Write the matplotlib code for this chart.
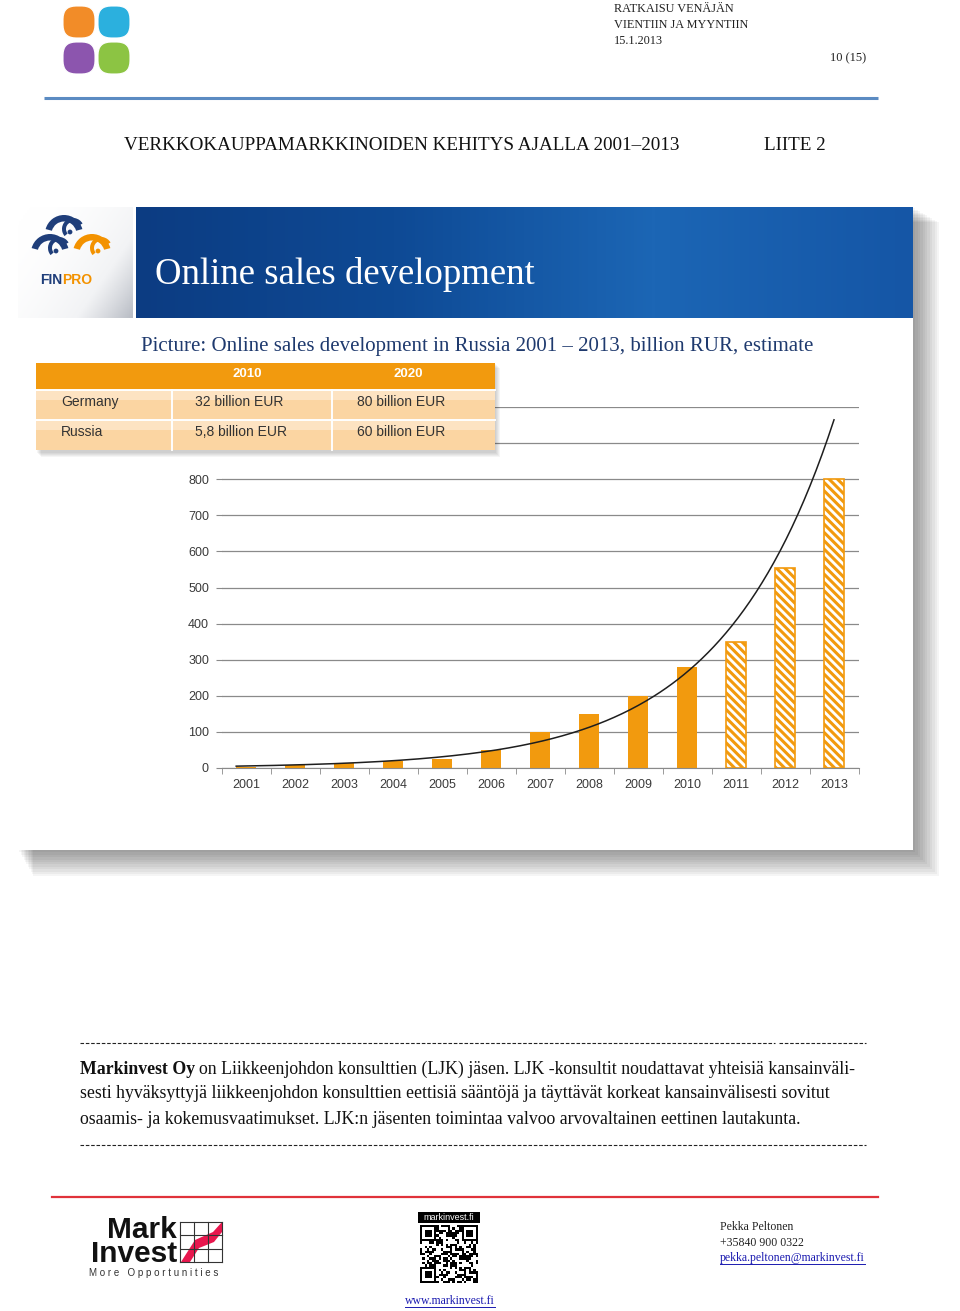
import hashlib
import numpy as np
import matplotlib
matplotlib.use("Agg")
import matplotlib.pyplot as plt
from matplotlib.patches import Rectangle, FancyBboxPatch, Wedge, Circle, Polygon
from matplotlib.colors import LinearSegmentedColormap

# chart data (billion RUR, estimate)
years = ["2001", "2002", "2003", "2004", "2005", "2006", "2007",
         "2008", "2009", "2010", "2011", "2012", "2013"]
sales = [4, 9, 15, 20, 25, 50, 100, 150, 200, 280, 350, 555, 800]
is_forecast = [False] * 10 + [True] * 3
y_ticks = [0, 100, 200, 300, 400, 500, 600, 700, 800]

# table in the slide
table_cols = ["", "2010", "2020"]
table_rows = [["Germany", "32 billion EUR", "80 billion EUR"],
              ["Russia", "5,8 billion EUR", "60 billion EUR"]]

header_lines = ["RATKAISU VENÄJÄN", "VIENTIIN JA MYYNTIIN", "15.1.2013"]
page_no = "10 (15)"
doc_title = "VERKKOKAUPPAMARKKINOIDEN KEHITYS AJALLA 2001–2013"
appendix = "LIITE 2"
slide_title = "Online sales development"
chart_title = "Picture: Online sales development in Russia 2001 – 2013, billion RUR, estimate"
para_bold = "Markinvest Oy"
para_lines = ["on Liikkeenjohdon konsulttien (LJK) jäsen. LJK -konsultit noudattavat yhteisiä kansainväli-",
              "sesti hyväksyttyjä liikkeenjohdon konsulttien eettisiä sääntöjä ja täyttävät korkeat kansainvälisesti sovitut",
              "osaamis- ja kokemusvaatimukset. LJK:n jäsenten toimintaa valvoo arvovaltainen eettinen lautakunta."]
contact = ["Pekka Peltonen", "+35840 900 0322", "pekka.peltonen@markinvest.fi"]
website = "www.markinvest.fi"

ORANGE = "#F29A0E"
SERIF = ["Liberation Serif", "DejaVu Serif"]
SANS = ["Liberation Sans", "DejaVu Sans"]

plt.rcParams["hatch.linewidth"] = 2.2
plt.rcParams["hatch.color"] = ORANGE

W, H = 960, 1311
fig = plt.figure(figsize=(W / 100, H / 100), dpi=100)
fig.patch.set_facecolor("white")
renderer = fig.canvas.get_renderer()


def right_edge(ax_, t):
    # x position (pixel coords of ax_) of the right end of a text
    bb = t.get_window_extent(renderer=renderer)
    return ax_.transData.inverted().transform((bb.x1, bb.y0))[0]


# background layer in pixel coordinates
bg = fig.add_axes([0, 0, 1, 1], zorder=0)
bg.set_xlim(0, W)
bg.set_ylim(H, 0)
bg.axis("off")

# --- page header ---
clover = [(62, 5, "#F28C28"), (97, 5, "#2BB0DE"), (62, 41, "#8C55AE"), (97, 41, "#8CC443")]
for x0, y0, c in clover:
    bg.add_patch(FancyBboxPatch((x0 + 6, y0 + 6), 22, 22, boxstyle="round,pad=5,rounding_size=13",
                                fc=c, ec="white", lw=0.8))
for i, t in enumerate(header_lines):
    bg.text(614, 9 + i * 16, t, family=SERIF, fontsize=8.8, va="center", ha="left", color="#222222")
bg.text(866, 58, page_no, family=SERIF, fontsize=9, va="center", ha="right", color="#222222")
bg.plot([44, 878], [98, 98], color="#5B8BC2", lw=2.2, solid_capstyle="butt")
bg.text(124, 145, doc_title, family=SERIF, fontsize=13.8, va="center", ha="left", color="#111111")
bg.text(764, 145, appendix, family=SERIF, fontsize=13.8, va="center", ha="left", color="#111111")

# --- slide with shadow ---
for k in range(12):
    bg.add_patch(Rectangle((18 + k * 1.4, 207 + k * 1.4), 895 + k, 643 + k,
                           fc="#000000", alpha=0.04, ec="none", zorder=1))
bg.add_patch(Rectangle((18, 207), 895, 643, fc="white", ec="none", zorder=2))

blue = LinearSegmentedColormap.from_list("b", ["#0C3C82", "#0E4A95", "#1C66B5", "#1556A6"])
grad = np.linspace(0, 1, 256).reshape(1, -1)
bg.imshow(grad, cmap=blue, extent=[136, 913, 318, 207], aspect="auto", zorder=3)
gray = LinearSegmentedColormap.from_list("g", ["#FFFFFF", "#F2F3F5", "#B9BDC5"])
gx, gy = np.meshgrid(np.linspace(0, 1, 60), np.linspace(0, 1, 60))
bg.imshow((gx * 0.6 + gy * 0.4) ** 2, cmap=gray, extent=[18, 133, 318, 207], aspect="auto", zorder=3)
bg.set_xlim(0, W)
bg.set_ylim(H, 0)

# finpro logo
NAVY = "#1F3E7A"
for cx, cy, c in [(64, 234, NAVY), (50, 253, NAVY), (92, 253, "#F39200")]:
    bg.add_patch(Wedge((cx, cy), 19, 195, 345, width=6.5, fc=c, ec="none", zorder=4))
    bg.add_patch(Wedge((cx + 9, cy - 5), 11, 140, 330, width=4, fc=c, ec="none", zorder=4))
    bg.add_patch(Circle((cx + 6, cy - 2), 2.4, fc=c, ec="none", zorder=4))
t_fin = bg.text(40, 280, "FIN", family=SANS, weight="bold", fontsize=10, color=NAVY, va="center", zorder=4)
bg.text(right_edge(bg, t_fin), 280, "PRO", family=SANS, weight="bold", fontsize=10,
        color="#F39200", va="center", zorder=4)

bg.text(155, 275, slide_title, family=SERIF, fontsize=26.5, color="white", va="center", zorder=4)
bg.text(477, 346, chart_title, family=SERIF, fontsize=15, color="#1F3A6E", va="center", ha="center", zorder=4)

# --- chart ---
ax = fig.add_axes([221.5 / W, (H - 768) / H, 637 / W, 361 / H], zorder=1)
ax.patch.set_alpha(0)
xs = np.arange(len(years))
for x, v, f in zip(xs, sales, is_forecast):
    if f:
        ax.bar(x, v, width=0.42, color="white", edgecolor=ORANGE, hatch="\\\\\\\\", lw=1.2, zorder=2)
    else:
        ax.bar(x, v, width=0.42, color=ORANGE, edgecolor="none", zorder=2)

# exponential trendline fitted to the bars
k, b = np.polyfit(xs, np.log(sales), 1)
tx = np.linspace(-0.2, 12.0, 300)
ax.plot(tx, np.exp(b + k * tx), color="#1E1E1E", lw=1.1, zorder=3)

ax.set_xlim(-0.5, 12.5)
ax.set_ylim(0, 1000)
ax.set_yticks(y_ticks)
ax.set_yticks([900, 1000], minor=True)
ax.set_xticks(xs)
ax.set_xticklabels(years)
ax.set_xticks(np.arange(-0.5, 13, 1), minor=True)
ax.grid(axis="y", which="both", color="#8A8A8A", lw=0.9, zorder=0)
ax.tick_params(axis="x", which="major", length=0, pad=8, labelsize=9, labelcolor="#3A3A3A")
ax.tick_params(axis="x", which="minor", length=4, color="#8A8A8A", direction="out")
ax.tick_params(axis="y", which="major", length=4, color="#8A8A8A", pad=5, labelsize=9, labelcolor="#3A3A3A")
ax.tick_params(axis="y", which="minor", length=0)
for lab in ax.get_xticklabels() + ax.get_yticklabels():
    lab.set_family(SANS)
for s in ["top", "right", "left"]:
    ax.spines[s].set_visible(False)
ax.spines["bottom"].set_color("#8A8A8A")

# --- overlay: table and footer ---
ov = fig.add_axes([0, 0, 1, 1], zorder=2)
ov.set_xlim(0, W)
ov.set_ylim(H, 0)
ov.axis("off")
ov.patch.set_alpha(0)

for k2 in range(5):
    ov.add_patch(Rectangle((37 + k2, 364 + k2), 459, 89, fc="black", alpha=0.04, ec="none"))
ov.add_patch(Rectangle((36, 363), 459, 27, fc=ORANGE, ec="none"))
row_y = [390, 420]
for ry in row_y:
    ov.add_patch(Rectangle((36, ry), 459, 30, fc="#FBD5A2", ec="none"))
    ov.add_patch(Rectangle((36, ry), 459, 10, fc="#FDE3C2", ec="none"))
    ov.plot([36, 495], [ry, ry], color="white", lw=1.4)
for cx in [172, 332]:
    ov.plot([cx, cx], [390, 450], color="white", lw=1.4)
col_x = [61, 195, 357]
ov.text(247, 374, table_cols[1], family=SANS, weight="bold", fontsize=9.5, color="white", ha="center", va="center")
ov.text(408, 374, table_cols[2], family=SANS, weight="bold", fontsize=9.5, color="white", ha="center", va="center")
for ry, row in zip(row_y, table_rows):
    for cx, t in zip(col_x, row):
        ov.text(cx, ry + 12, t, family=SANS, fontsize=10, color="#333333", va="center", ha="left")

# footer paragraph
ov.plot([80, 775], [1043, 1043], color="#222222", lw=0.8, dashes=(3.2, 1.6))
ov.plot([779, 866], [1043, 1043], color="#222222", lw=0.8, dashes=(3.2, 1.6))
ov.plot([80, 866], [1145, 1145], color="#222222", lw=0.8, dashes=(3.2, 1.6))
PFS = 12.75
t_b = ov.text(80, 1069, para_bold, family=SERIF, weight="bold", fontsize=PFS, color="#111111", va="center")
ov.text(right_edge(ov, t_b) + 4, 1069, para_lines[0], family=SERIF, fontsize=PFS, color="#111111", va="center")
ov.text(80, 1094, para_lines[1], family=SERIF, fontsize=PFS, color="#111111", va="center")
ov.text(80, 1119, para_lines[2], family=SERIF, fontsize=PFS, color="#111111", va="center")

ov.plot([52, 878], [1197, 1197], color="#E0323A", lw=1.6)

# markinvest logo
ov.text(177, 1242, "Mark\nInvest", family=SANS, weight="bold", fontsize=21.5, color="#111111",
        ha="right", va="center", multialignment="right", linespacing=0.78)
for i in range(4):
    ov.plot([180, 222], [1222 + i * 13.3, 1222 + i * 13.3], color="#333333", lw=0.8)
    ov.plot([180 + i * 14, 180 + i * 14], [1222, 1262], color="#333333", lw=0.8)
ov.add_patch(Polygon([[181, 1262], [195, 1240], [213, 1232], [222, 1222], [222, 1232], [214, 1242],
                      [199, 1248], [190, 1262]], fc="#E8174E", ec="none"))
ov.text(89, 1273, "M o r e   O p p o r t u n i t i e s", family=SANS, fontsize=7, color="#333333", va="center")

# qr code block
ov.add_patch(Rectangle((418, 1212), 62, 11, fc="black", ec="none"))
ov.text(449, 1217.5, "markinvest.fi", family=SANS, fontsize=6.5, color="white", ha="center", va="center")
n = 25
cell = 58 / n
bits = "".join(format(c, "08b") for c in hashlib.sha256(b"markinvest.fi").digest() * 3)
for r in range(n):
    for c in range(n):
        finder = (r < 7 and c < 7) or (r < 7 and c >= n - 7) or (r >= n - 7 and c < 7)
        if finder:
            rr = r if r < 7 else r - (n - 7)
            cc = c if c < 7 else c - (n - 7)
            on = max(abs(rr - 3), abs(cc - 3)) in (0, 1, 3)
        else:
            on = bits[(r * n + c) % len(bits)] == "1"
        if on:
            ov.add_patch(Rectangle((420 + c * cell, 1225 + r * cell), cell, cell, fc="black", ec="none"))

t_w = ov.text(450, 1301, website, family=SERIF, fontsize=8.5, color="#1A1AB0", ha="center", va="center")
bbw = t_w.get_window_extent(renderer=renderer)
x0w = ov.transData.inverted().transform((bbw.x0, bbw.y0))[0]
ov.plot([x0w, right_edge(ov, t_w)], [1307, 1307], color="#1A1AB0", lw=0.7)

for i, t in enumerate(contact):
    col = "#1A1AB0" if i == 2 else "#222222"
    tc = ov.text(720, 1227 + i * 15.5, t, family=SERIF, fontsize=8.5, color=col, va="center")
ov.plot([720, right_edge(ov, tc)], [1264, 1264], color="#1A1AB0", lw=0.7)

fig.savefig("out.png", dpi=100, facecolor="white")
